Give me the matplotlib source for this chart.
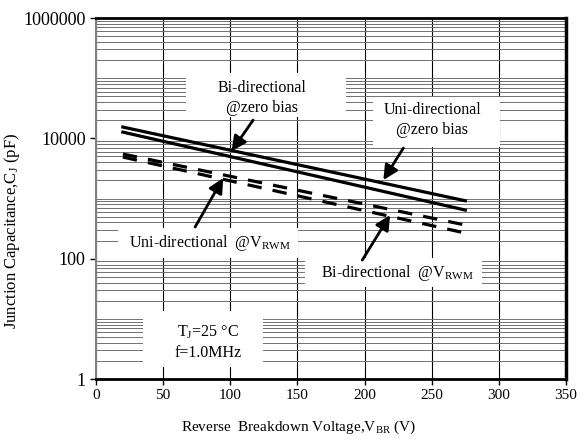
import matplotlib
matplotlib.use("Agg")
import matplotlib.pyplot as plt
from matplotlib.patches import Rectangle
from matplotlib.ticker import FixedLocator, NullFormatter

plt.rcParams['font.family'] = ['Liberation Serif', 'DejaVu Serif']
plt.rcParams['mathtext.fontset'] = 'custom'
plt.rcParams['mathtext.rm'] = 'Liberation Serif'
plt.rcParams['mathtext.it'] = 'Liberation Serif:italic'

# data (V_BR in volts, C_J in pF)
vbr = [20, 275]
bi_zero = [15400, 918]
uni_zero = [12700, 643]
bi_vrwm = [5490, 363]
uni_vrwm = [4890, 267]

x_ticks = [0, 50, 100, 150, 200, 250, 300, 350]
y_ticks = [1, 100, 10000, 1000000]
y_tick_labels = ["1", "100", "10000", "1000000"]

fig = plt.figure(figsize=(5.85, 4.42), dpi=100)
ax = fig.add_axes([0.1641, 0.1425, 0.8034, 0.8167])

ax.set_yscale('log')
ax.set_xlim(0, 350)
ax.set_ylim(1, 1000000)

ax.set_xticks(x_ticks)
ax.set_yticks(y_ticks)
ax.set_yticklabels(y_tick_labels)
minor = [m * 10**k for k in range(0, 6) for m in range(1, 10)] + [1000000]
ax.yaxis.set_minor_locator(FixedLocator(minor))
ax.yaxis.set_minor_formatter(NullFormatter())
ax.tick_params(axis='y', which='minor', length=0)
ax.tick_params(axis='both', which='major', direction='out', length=4, width=1)
ax.tick_params(axis='x', labelsize=11)
ax.tick_params(axis='y', labelsize=13)

ax.grid(True, axis='x', which='major', color='black', lw=0.8, zorder=0)
ax.grid(True, axis='y', which='minor', color='#707070', lw=0.7, zorder=0)
ax.set_axisbelow(True)

for side, c, w in [('top', 'black', 2), ('right', 'black', 2.5),
                   ('bottom', 'black', 2), ('left', '#808080', 1.5)]:
    ax.spines[side].set_color(c)
    ax.spines[side].set_linewidth(w)

# white label boxes that hide the grid
for x0, x1, y0, y1 in [(67, 186, 22600, 121700),
                       (206.5, 301, 7180, 48500),
                       (16.4, 150.6, 102.6, 323),
                       (155.8, 287.8, 33.8, 102.6),
                       (35, 124.5, 1.58, 13.5)]:
    ax.add_patch(Rectangle((x0, y0), x1 - x0, y1 - y0, fc='white', ec='none', zorder=2))

ax.plot(vbr, bi_zero, color='black', lw=2.3, zorder=4)
ax.plot(vbr, uni_zero, color='black', lw=2.3, zorder=4)
ax.plot(vbr, bi_vrwm, color='black', lw=2.3, ls=(0, (4.5, 3.5)), dash_capstyle='butt', zorder=4)
ax.plot(vbr, uni_vrwm, color='black', lw=2.3, ls=(0, (4.5, 3.5)), dash_capstyle='butt', zorder=4)

arrow = dict(arrowstyle='-|>', color='black', lw=2, mutation_scale=22, shrinkA=0, shrinkB=0)
ax.annotate("", xy=(101, 6150), xytext=(117, 20100), arrowprops=arrow, zorder=5)
ax.annotate("", xy=(214, 2030), xytext=(228.9, 6900), arrowprops=arrow, zorder=5)
ax.annotate("", xy=(94.7, 2190), xytext=(73.8, 336), arrowprops=arrow, zorder=5)
ax.annotate("", xy=(219, 531), xytext=(198.3, 94.9), arrowprops=arrow, zorder=5)

ax.text(123.7, 46900, "Bi-directional\n@zero bias", ha='center', va='center',
        fontsize=11.5, linespacing=1.35, zorder=3)
ax.text(250.5, 20100, "Uni-directional\n@zero bias", ha='center', va='center',
        fontsize=11.5, linespacing=1.35, zorder=3)
ax.text(85, 182, "Uni-directional  @V$_{\\mathrm{RWM}}$", ha='center', va='center',
        fontsize=11.5, zorder=3)
ax.text(224.4, 57.7, "Bi-directional  @V$_{\\mathrm{RWM}}$", ha='center', va='center',
        fontsize=11.5, zorder=3)
ax.text(83.5, 4.12, "T$_{\\mathrm{J}}$=25 \u00b0C\nf=1.0MHz", ha='center', va='center',
        fontsize=11.5, linespacing=1.35, zorder=3)

ax.set_xlabel("Reverse  Breakdown Voltage,V$_{\\mathrm{BR}}$ (V)", fontsize=11)
ax.set_ylabel("Junction Capacitance,C$_{\\mathrm{J}}$ (pF)", fontsize=12)
ax.xaxis.set_label_coords(0.432, -0.11)
ax.yaxis.set_label_coords(-0.157, 0.41)

fig.savefig("out.png", dpi=100)
